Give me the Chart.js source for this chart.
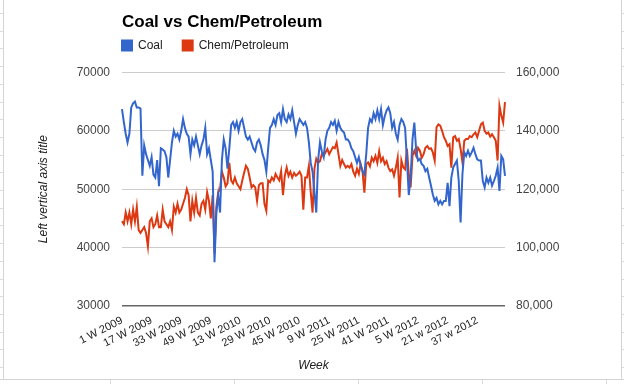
<!DOCTYPE html>
<html>
<head>
<meta charset="utf-8">
<script src="https://cdn.jsdelivr.net/npm/chart.js@4.4.1/dist/chart.umd.min.js"></script>
<style>
  html, body { margin: 0; padding: 0; background: #fff; }
  #wrap { position: relative; width: 624px; height: 384px; overflow: hidden; }
  #wrap canvas { position: relative; z-index: 1; }
  /* spreadsheet cells peeking out around the embedded chart */
  .sheet { position: absolute; z-index: 0; }
  .sheet.left  { left: 0; top: 0; width: 3px; height: 379px; border-right: 1px solid #d4d4d4;
                 background: repeating-linear-gradient(to bottom, transparent 0 13px, #dcdcdc 13px 14px, transparent 14px 17.7px); }
  .sheet.right { left: 621px; top: 0; width: 3px; height: 379px; border-left: 1px solid #d4d4d4;
                 background: repeating-linear-gradient(to bottom, transparent 0 13px, #dcdcdc 13px 14px, transparent 14px 17.7px); }
  .sheet.bottom { left: 0; top: 379px; width: 624px; height: 5px; border-top: 1px solid #d4d4d4;
                 background: repeating-linear-gradient(to right, transparent 0 110px, #dcdcdc 110px 111px, transparent 111px 124px); }
</style>
</head>
<body>
<div id="wrap">
  <div class="sheet left"></div>
  <div class="sheet right"></div>
  <div class="sheet bottom"></div>
  <canvas id="chart"></canvas>
</div>
<script>
// Weekly categories, 1 W 2009 .. 52 W 2012
const years = [2009, 2010, 2011, 2012];
const weeks = [];
for (const yr of years) {
  for (let wk = 1; wk <= 52; wk++) weeks.push(wk + ' W ' + yr);
}

// shown every 16th week, as on the original sheet
const tickLabels = ['1 W 2009', '17 W 2009', '33 W 2009', '49 W 2009', '13 W 2010', '29 W 2010',
  '45 W 2010', '9 W 2011', '25 W 2011', '41 W 2011', '5 W 2012', '21 w 2012', '37 w 2012'];

// Coal, left axis
const coal = [
  63700, 61500, 59500, 58000, 59500, 64000, 64700, 65000, 64000, 64000,
  63800, 52300, 57500, 56000, 55000, 54000, 55500, 52500, 52000, 55000,
  50500, 57000, 56800, 56500, 55500, 52000, 55000, 58000, 60000, 59000,
  59500, 58500, 60000, 62000, 60500, 59500, 59000, 56000, 58500, 57500,
  59000, 57500, 56000, 57500, 58500, 60500, 56000, 57000, 55000, 53000,
  37500, 46000, 49000, 46000, 55000, 58500, 57000, 53500, 57000, 61000,
  61500, 60500, 61500, 60000, 61500, 62000, 60500, 59000, 58500, 59000,
  58000, 57000, 56500, 58000, 58500, 57500, 56000, 55000, 53000, 57000,
  60500, 61000, 62000, 61000, 62700, 63000, 61500, 63700, 62000, 61500,
  62800, 62000, 63500, 61500, 59500, 61000, 62000, 61500, 61000, 61500,
  60500, 58000, 54500, 53000, 49500, 46000, 55000, 58000, 56500, 55500,
  58500, 60000, 60500, 61500, 61000, 61700, 60000, 61500, 60500, 60000,
  59700, 58500, 58500, 58000, 57000, 56500, 55500, 54500, 55500, 54000,
  53000, 52500, 56000, 60500, 62000, 61500, 63000, 62000, 63500, 62000,
  63700, 61000, 62500, 63500, 64000, 63000, 60500, 61500, 59500, 58500,
  61000, 62000, 61500, 60500, 55000, 49000, 52000, 58500, 61400, 56600,
  54900, 55200, 54300, 54000, 53100, 53500, 52000, 50600, 49100, 48000,
  48500, 47400, 48000, 47400, 48000, 48000, 51100, 47100, 52000, 53700,
  54300, 54900, 51400, 44300, 52600, 56300, 55700, 56600, 55700, 56300,
  57100, 56000, 55100, 54900, 54900, 51400, 50300, 52000, 51100, 52000,
  50600, 51400, 52300, 53700, 49700, 55700, 55100, 52300
];

// Chem/Petroleum, right axis
const chem = [
  109000, 108000, 112000, 109000, 112000, 108000, 113000, 109000, 114000, 106000,
  105000, 106000, 107000, 105000, 100400, 109000, 110000, 107000, 108000, 111000,
  107000, 107000, 113000, 109000, 108000, 107000, 109000, 106000, 114000, 112000,
  115000, 112000, 113000, 115000, 117000, 120000, 118000, 109000, 116000, 112000,
  117000, 112000, 111000, 115000, 116000, 113000, 119000, 116000, 110000, 118000,
  98000, 114000, 119000, 120000, 126000, 124000, 121000, 122000, 129000, 123000,
  122000, 124000, 122000, 121000, 120000, 123000, 125600, 128000, 127000, 124000,
  120600, 121400, 120600, 116000, 121400, 122000, 122000, 115000, 112600, 123000,
  122400, 124000, 123000, 125200, 124000, 123000, 126200, 118000, 124600, 127400,
  124600, 126000, 124000, 125600, 124600, 125200, 126000, 124600, 113000, 124000,
  124000, 128000, 119000, 112000, 127000, 130400, 129000, 129600, 132000, 131400,
  132600, 133800, 132000, 133200, 134400, 134000, 136000, 132000, 128000, 130000,
  128600, 127400, 128000, 127400, 128600, 126000, 124600, 127000, 125200, 128600,
  126200, 118800, 128600, 129200, 127800, 130800, 129600, 131400, 129000, 133000,
  129600, 130800, 128600, 129600, 127400, 126200, 126800, 124600, 127400, 130800,
  117200, 129800, 127400, 126800, 133800, 125200, 120600, 131400, 133200, 131400,
  134200, 133200, 130800, 132000, 134200, 134800, 133800, 134000, 132600, 129800,
  141200, 142200, 141800, 140000, 137800, 136600, 134800, 135400, 127400, 137800,
  138200, 136600, 137200, 133800, 129200, 136600, 137200, 137200, 138200, 137800,
  138800, 139400, 137800, 140000, 142200, 142800, 140000, 139000, 139400, 138000,
  138800, 137800, 136600, 129800, 148600, 145200, 142800, 149800
];

const BLUE = '#3366cc';
const RED = '#dc3912';
const FONT = '"Liberation Sans", Arial, Helvetica, sans-serif';

Chart.defaults.font.family = FONT;
Chart.defaults.color = '#444';

// legend: items spaced like the sheet chart, flush with the plot's left edge
const LEGEND_PAD = 20;
const legendTweak = {
  id: 'legendTweak',
  beforeInit(chart) {
    const fit = chart.legend.fit;
    chart.legend.fit = function () {
      fit.call(this);
      this.height += 11;
    };
  },
  afterLayout(chart) {
    chart.legend.left -= LEGEND_PAD;
    chart.legend.right -= LEGEND_PAD;
  }
};

new Chart(document.getElementById('chart'), {
  type: 'line',
  data: {
    labels: weeks,
    datasets: [
      {
        label: 'Coal',
        data: coal,
        yAxisID: 'y',
        borderColor: BLUE,
        backgroundColor: BLUE,
        borderWidth: 2,
        pointRadius: 0,
        tension: 0
      },
      {
        label: 'Chem/Petroleum',
        data: chem,
        yAxisID: 'y1',
        borderColor: RED,
        backgroundColor: RED,
        borderWidth: 2,
        pointRadius: 0,
        tension: 0
      }
    ]
  },
  options: {
    responsive: true,
    maintainAspectRatio: false,
    animation: false,
    layout: { padding: { left: 30, right: 0, top: 0, bottom: 0 } },
    plugins: {
      title: {
        display: true,
        text: 'Coal vs Chem/Petroleum',
        align: 'start',
        fullSize: false,
        color: '#000',
        font: { size: 17, weight: 'bold' },
        padding: { top: 12, bottom: -13 }
      },
      legend: {
        align: 'start',
        fullSize: false,
        labels: {
          color: '#222',
          font: { size: 12 },
          boxWidth: 10,
          boxHeight: 10,
          padding: LEGEND_PAD
        }
      },
      tooltip: { enabled: false }
    },
    scales: {
      x: {
        grid: { display: false },
        border: { display: false },
        afterFit: (s) => { s.height = 78; },
        ticks: {
          autoSkip: false,
          maxRotation: 27,
          minRotation: 27,
          padding: 0,
          color: '#222',
          font: { size: 11 },
          callback: (v, i) => (i % 16 === 0 ? tickLabels[i / 16] : '')
        },
        title: {
          display: true,
          text: 'Week',
          color: '#222',
          font: { size: 12, style: 'italic' },
          padding: { top: 0, bottom: 11 }
        }
      },
      y: {
        position: 'left',
        min: 30000,
        max: 70000,
        afterFit: (s) => { s.width = 92; },
        border: { display: false },
        grid: {
          drawTicks: false,
          color: (c) => (c.tick && c.tick.value === 30000 ? '#666' : '#cccccc'),
          lineWidth: (c) => (c.tick && c.tick.value === 30000 ? 1.5 : 1)
        },
        ticks: {
          stepSize: 10000,
          padding: 12,
          font: { size: 12 },
          callback: (v) => String(v)
        },
        title: {
          display: true,
          text: 'Left vertical axis title',
          color: '#222',
          font: { size: 12, style: 'italic' },
          padding: { top: 6, bottom: 0 }
        }
      },
      y1: {
        position: 'right',
        min: 80000,
        max: 160000,
        afterFit: (s) => { s.width = 119; },
        border: { display: false },
        grid: { drawOnChartArea: false, drawTicks: false },
        ticks: {
          stepSize: 20000,
          padding: 11,
          font: { size: 12 },
          callback: (v) => v.toLocaleString('en-US')
        }
      }
    }
  },
  plugins: [legendTweak]
});
</script>
</body>
</html>
